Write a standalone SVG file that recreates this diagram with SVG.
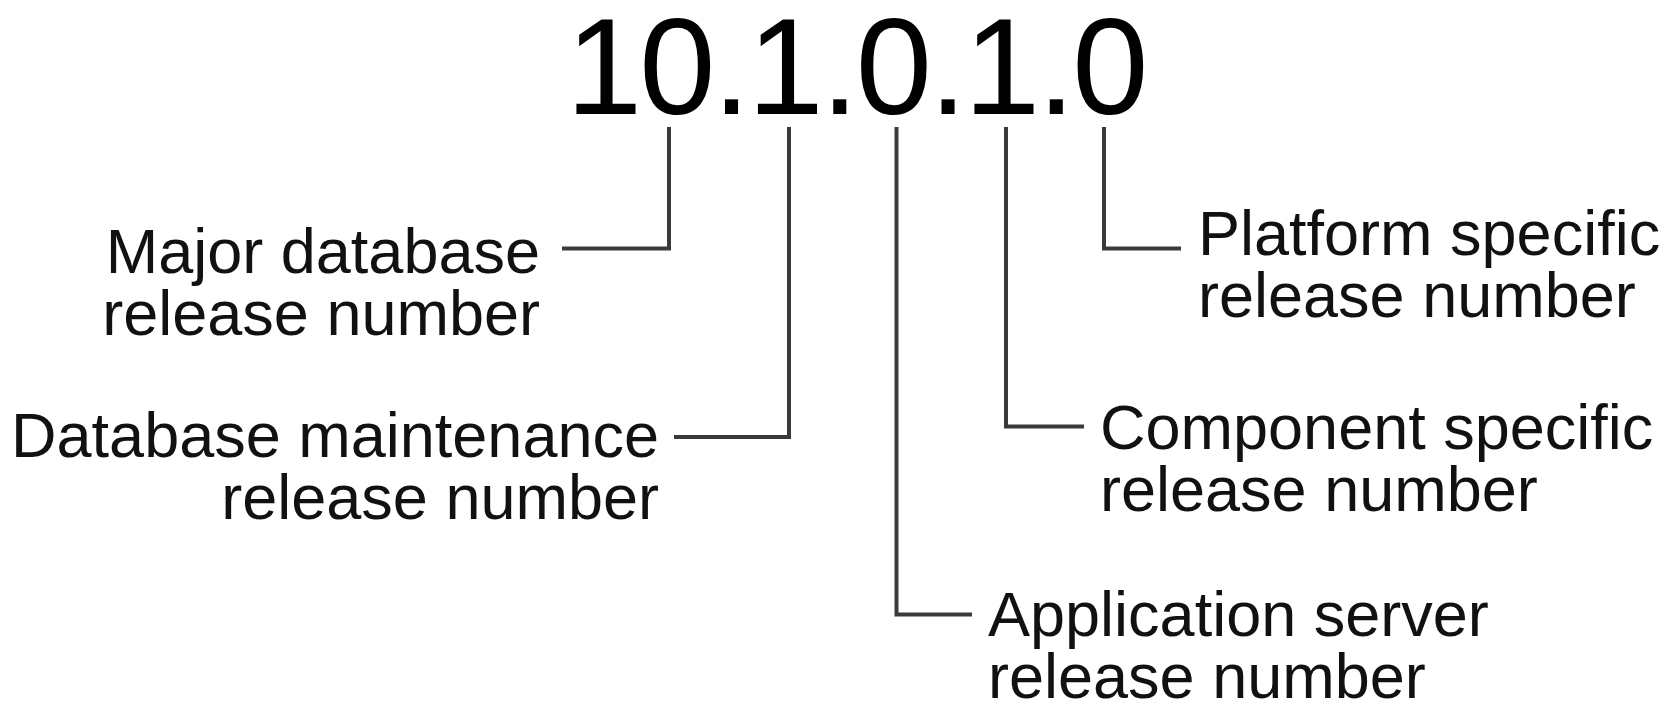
<svg xmlns="http://www.w3.org/2000/svg" width="1664" height="702" viewBox="0 0 1664 702">
  <style>
    .title { font-family: "Liberation Sans", Arial, sans-serif; font-size: 137px; fill: #000; letter-spacing: -3px; }
    .lbl { font-family: "Liberation Sans", Arial, sans-serif; font-size: 63px; fill: #111; }
    .conn { fill: none; stroke: #3a3a3a; stroke-width: 4; stroke-linejoin: miter; stroke-linecap: butt; }
  </style>
  <rect width="1664" height="702" fill="#fff"/>
  <g id="version">
    <text class="title" x="566" y="114">10.1.0.1.0</text>
  </g>
  <g id="connectors">
    <polyline class="conn" points="669,127 669,248.5 562,248.5"/>
    <polyline class="conn" points="789,127 789,437 674,437"/>
    <polyline class="conn" points="896.5,127 896.5,614.5 972,614.5"/>
    <polyline class="conn" points="1006,127 1006,426.5 1084,426.5"/>
    <polyline class="conn" points="1104,127 1104,248.5 1181,248.5"/>
  </g>
  <g id="major">
    <text class="lbl" text-anchor="end" x="540" y="273">Major database</text>
    <text class="lbl" text-anchor="end" x="540" y="335">release number</text>
  </g>
  <g id="maintenance">
    <text class="lbl" text-anchor="end" x="659" y="457">Database maintenance</text>
    <text class="lbl" text-anchor="end" x="659" y="519">release number</text>
  </g>
  <g id="appserver">
    <text class="lbl" x="988" y="636">Application server</text>
    <text class="lbl" x="988" y="698">release number</text>
  </g>
  <g id="component">
    <text class="lbl" x="1100" y="449">Component specific</text>
    <text class="lbl" x="1100" y="511">release number</text>
  </g>
  <g id="platform">
    <text class="lbl" x="1198" y="255">Platform specific</text>
    <text class="lbl" x="1198" y="317">release number</text>
  </g>
</svg>
